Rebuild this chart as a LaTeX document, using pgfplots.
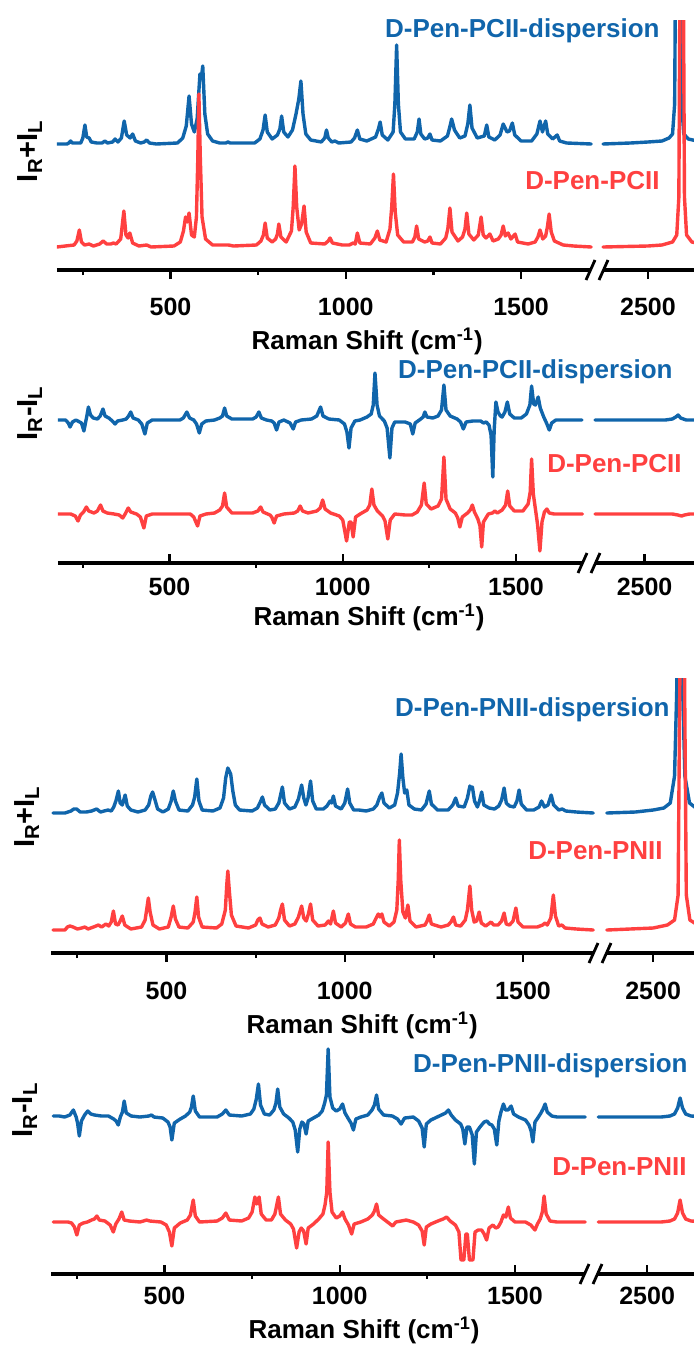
\documentclass[border=0pt]{standalone}
\usepackage{fontspec}
\setmainfont{Liberation Sans}
\usepackage{pgfplots}
\pgfplotsset{compat=1.18}

\definecolor{specblue}{HTML}{1065AB}
\definecolor{specred}{HTML}{FF4040}

\newcommand{\lblfont}{\bfseries\fontsize{13}{15}\selectfont}
\newcommand{\ylblfont}{\bfseries\fontsize{14.5}{16}\selectfont}
\newcommand{\tickfont}{\bfseries\fontsize{12.5}{14}\selectfont}

\pgfplotsset{
  ramanpanel/.style={
    scale only axis, anchor=south west, clip=true,
    axis x line*=bottom, axis y line*=left,
    axis line style={-},
    x axis line style={line width=1.6pt},
    y axis line style={draw=none},
    ytick=\empty, ymin=0,
    xticklabels={500,1000,1500,2500},
    extra x ticks={250,750,1250}, extra x tick labels={},
    major tick length=4.5pt,
    tick style={line width=1.1pt, black},
    /pgf/number format/assume math mode=true,
    xticklabel style={font=\tickfont, inner sep=0pt},
    xlabel style={font=\lblfont, inner sep=0pt},
    ylabel style={font=\ylblfont, inner sep=0pt},
    xlabel={Raman Shift (cm\textsuperscript{-1})},
  },
  sumpanel/.style={ylabel={I\textsubscript{R}+I\textsubscript{L}}},
  diffpanel/.style={ylabel={I\textsubscript{R}-I\textsubscript{L}}},
  ticksout/.style={xtick align=outside,
    extra x tick style={major tick length=2.5pt, xtick align=outside}},
  ticksmixed/.style={xtick align=inside,
    extra x tick style={major tick length=2.5pt, xtick align=outside}},
  bluespec/.style={color=specblue, line width=1.7pt, line join=round, line cap=round, no markers},
  redspec/.style={color=specred, line width=1.7pt, line join=round, line cap=round, no markers},
  % vertical offset of a stacked trace, and shift of the 2400-2650 segment next to the break
  lift/.style={y filter/.expression={y+#1}},
  brk/.style={x filter/.expression={x-#1}},
}

\begin{document}
\begin{tikzpicture}

% ---------------- (a) I_R + I_L, PCII ----------------
\begin{axis}[ramanpanel, sumpanel, ticksout,
  at={(28.5pt,-135pt)}, width=318.5pt, height=124.5pt,
  xmin=176.3, xmax=1993.2, ymax=249,
  xtick={500,1000,1500,1862},
  xticklabel style={yshift=-9.5pt},
  xlabel style={at={(axis description cs:0.487,0)}, anchor=base, yshift=-39.5pt},
  ylabel style={at={(axis description cs:-0.0424,0.478)}, anchor=center}]
\addplot[bluespec, lift=126] coordinates {
(176,0) (205,0) (210,1) (215,3) (220,1) (244,1) (250,6) (256,19) (261,7) (268,6) (274,2) (290,1) (305,1) (313,3) (320,1) (335,2) (342,5) (350,2) (360,6) (368,23) (375,9) (385,6) (392,10) (400,3) (415,1) (425,2) (432,4) (440,1) (460,0) (520,1) (535,6) (545,18) (553,48) (560,20) (568,12) (576,25) (584,70) (588,66) (592,78) (598,30) (606,10) (620,3) (640,1) (658,1) (664,2) (670,1) (740,1) (755,5) (764,14) (770,29) (776,12) (790,5) (805,9) (812,15) (817,28) (823,12) (835,7) (848,14) (858,30) (866,45) (872,63) (878,30) (886,10) (900,4) (930,2) (940,6) (945,14) (950,6) (960,2) (969,3) (980,1) (1015,2) (1025,6) (1033,14) (1040,5) (1060,3) (1085,7) (1093,15) (1098,22) (1104,9) (1120,4) (1135,12) (1140,40) (1145,99) (1150,40) (1156,12) (1170,5) (1195,5) (1204,12) (1209,25) (1214,10) (1225,5) (1234,6) (1240,10) (1246,4) (1270,3) (1290,8) (1296,16) (1302,25) (1310,14) (1325,6) (1340,8) (1348,20) (1354,39) (1360,16) (1375,6) (1395,8) (1402,19) (1408,7) (1425,4) (1440,9) (1449,20) (1460,12) (1467,13) (1475,21) (1482,9) (1500,3) (1530,3) (1545,10) (1554,23) (1561,12) (1570,23) (1576,10) (1590,5) (1603,9) (1610,3) (1630,1) (1700,0)};
\addplot[bluespec, lift=126, brk=638] coordinates {
(2372,0) (2450,1) (2500,2) (2540,3) (2560,6) (2570,10) (2576,40) (2579,200) (2593,200) (2596,40) (2602,10) (2615,5) (2640,3) (2670,2)};
\addplot[redspec, lift=23] coordinates {
(176,0) (200,1) (225,2) (233,6) (240,17) (246,5) (255,2) (268,3) (280,1) (298,3) (308,6) (318,3) (330,3) (337,4) (345,3) (358,8) (367,36) (373,12) (379,9) (384,14) (392,4) (410,1) (432,2) (445,0) (510,1) (528,5) (537,16) (543,30) (548,25) (553,34) (560,12) (568,10) (574,30) (578,90) (581,153) (585,90) (590,30) (600,8) (620,2) (665,2) (680,1) (745,2) (758,6) (765,12) (770,24) (776,9) (790,5) (800,8) (805,13) (809,23) (815,10) (830,5) (845,16) (850,40) (855,81) (860,40) (867,17) (874,23) (881,41) (887,15) (900,4) (940,3) (950,6) (955,9) (962,4) (990,2) (1010,2) (1021,4) (1027,3) (1033,14) (1040,4) (1070,3) (1083,9) (1090,16) (1097,7) (1115,5) (1126,18) (1131,40) (1136,73) (1141,35) (1148,12) (1165,5) (1190,5) (1197,10) (1202,21) (1208,8) (1225,5) (1234,6) (1240,10) (1246,4) (1270,3) (1285,9) (1291,18) (1297,39) (1303,15) (1320,6) (1333,10) (1340,18) (1345,34) (1351,13) (1365,7) (1378,12) (1386,30) (1392,12) (1400,9) (1411,13) (1420,6) (1435,8) (1443,12) (1449,21) (1455,11) (1463,14) (1471,8) (1483,13) (1490,5) (1520,3) (1540,5) (1548,10) (1554,17) (1562,8) (1570,11) (1575,20) (1580,33) (1586,15) (1595,6) (1620,2) (1650,1) (1700,0)};
\addplot[redspec, lift=23, brk=638] coordinates {
(2372,0) (2500,1) (2540,2) (2570,5) (2582,12) (2588,50) (2591,260) (2601,260) (2604,50) (2610,12) (2625,5) (2670,2)};
\end{axis}

% ---------------- (b) I_R - I_L, PCII ----------------
\begin{axis}[ramanpanel, diffpanel, ticksmixed,
  at={(29pt,-281.5pt)}, width=318pt, height=106.5pt,
  xmin=178.2, xmax=2013.7, ymax=213,
  xtick={500,1000,1500,1871},
  xticklabel style={yshift=-7.5pt},
  xlabel style={at={(axis description cs:0.489,0)}, anchor=base, yshift=-31pt},
  ylabel style={at={(axis description cs:-0.044,0.704)}, anchor=center}]
\addplot[bluespec, lift=143] coordinates {
(178,0) (200,0) (208,-3) (213,-7) (220,-2) (230,0) (246,-3) (253,-11) (258,-2) (262,5) (266,13) (272,5) (280,2) (292,1) (300,4) (308,11) (314,4) (325,2) (335,-1) (343,-4) (350,-1) (365,0) (375,1) (382,4) (388,8) (395,2) (410,0) (420,-4) (429,-14) (436,-3) (450,0) (530,0) (540,2) (550,8) (558,2) (570,0) (578,-4) (586,-13) (593,-4) (605,-1) (630,0) (645,2) (653,4) (659,12) (665,4) (680,1) (740,1) (750,3) (758,8) (765,2) (780,0) (795,-1) (802,-3) (809,-10) (816,-2) (830,0) (848,-3) (857,-9) (864,-2) (880,0) (910,1) (925,4) (936,13) (943,4) (960,1) (990,0) (1005,-4) (1012,-12) (1018,-28) (1024,-8) (1035,-1) (1050,0) (1070,3) (1082,6) (1088,15) (1093,47) (1099,15) (1106,4) (1120,-1) (1128,-8) (1136,-38) (1142,-8) (1150,-2) (1180,-2) (1195,-4) (1202,-14) (1209,-3) (1225,1) (1232,3) (1237,8) (1243,3) (1260,2) (1275,4) (1285,10) (1292,35) (1298,10) (1310,4) (1330,1) (1340,-2) (1348,-9) (1356,-2) (1375,-1) (1398,-1) (1406,-3) (1414,-2) (1422,-5) (1428,-15) (1433,-57) (1437,-10) (1442,18) (1448,8) (1455,4) (1460,3) (1468,8) (1475,18) (1482,6) (1495,2) (1515,2) (1530,6) (1540,15) (1545,34) (1551,16) (1556,15) (1564,23) (1570,12) (1580,3) (1588,-3) (1596,-10) (1603,-3) (1615,0) (1690,0)};
\addplot[bluespec, lift=143, brk=629] coordinates {
(2357,0) (2560,0) (2580,1) (2590,3) (2597,5) (2604,2) (2620,0) (2680,0)};
\addplot[redspec, lift=49] coordinates {
(178,0) (215,0) (228,-2) (236,-7) (243,-1) (252,2) (260,7) (267,3) (282,1) (292,3) (301,9) (308,3) (320,1) (340,0) (355,-1) (365,-4) (372,0) (381,6) (388,2) (405,0) (416,-3) (426,-14) (433,-2) (450,0) (560,0) (570,-3) (581,-12) (588,-2) (605,0) (630,1) (645,4) (653,8) (659,21) (665,7) (680,1) (740,1) (755,3) (763,7) (770,2) (790,-1) (795,-3) (802,-9) (809,-2) (830,0) (860,1) (870,3) (877,8) (884,3) (900,1) (925,3) (935,6) (942,14) (949,5) (965,1) (990,-2) (1000,-6) (1011,-27) (1019,-8) (1024,-8) (1030,-23) (1037,-3) (1050,0) (1070,4) (1078,9) (1084,25) (1090,9) (1100,3) (1115,-2) (1122,-7) (1130,-25) (1137,-6) (1150,0) (1180,-1) (1200,-1) (1215,2) (1227,9) (1235,31) (1241,10) (1255,5) (1275,8) (1285,15) (1292,57) (1298,15) (1310,5) (1325,1) (1332,-4) (1338,-13) (1345,-3) (1360,1) (1368,4) (1374,9) (1380,2) (1390,-5) (1396,-12) (1401,-33) (1406,-8) (1420,0) (1432,1) (1439,3) (1446,1) (1460,4) (1470,9) (1476,23) (1482,8) (1495,3) (1520,3) (1535,10) (1541,22) (1545,55) (1550,20) (1556,5) (1562,-10) (1569,-37) (1575,-8) (1582,2) (1589,5) (1596,1) (1610,0) (1692,0)};
\addplot[redspec, lift=49, brk=629] coordinates {
(2357,0) (2580,0) (2596,-1) (2607,-2) (2615,-1) (2630,0) (2680,0)};
\end{axis}

% ---------------- (c) I_R + I_L, PNII ----------------
\begin{axis}[ramanpanel, sumpanel, ticksout,
  at={(25.5pt,-476.5pt)}, width=321.5pt, height=137.5pt,
  xmin=176.0, xmax=1979.6, ymax=275,
  xtick={500,1000,1500,1865},
  xticklabel style={yshift=-10pt},
  xlabel style={at={(axis description cs:0.484,0)}, anchor=base, yshift=-40pt},
  ylabel style={at={(axis description cs:-0.0373,0.495)}, anchor=center}]
\addplot[bluespec, lift=140] coordinates {
(182,0) (215,0) (232,2) (240,4) (248,4) (258,1) (275,1) (290,2) (304,4) (315,1) (325,2) (336,3) (345,2) (352,6) (358,12) (365,22) (370,10) (376,8) (384,18) (390,7) (400,3) (420,1) (440,3) (450,8) (456,17) (461,21) (467,14) (475,4) (490,1) (505,4) (513,12) (519,22) (525,12) (535,3) (560,2) (573,8) (579,16) (585,34) (591,12) (600,3) (630,2) (650,5) (660,15) (666,35) (672,45) (680,39) (686,22) (693,8) (705,3) (740,2) (755,5) (763,11) (769,16) (775,8) (790,3) (805,4) (815,10) (825,26) (831,10) (845,4) (860,6) (870,14) (879,28) (885,15) (891,8) (897,15) (904,32) (910,12) (920,4) (940,4) (950,7) (959,12) (963,10) (968,17) (974,7) (990,4) (1000,10) (1008,24) (1014,10) (1025,3) (1040,3) (1060,2) (1080,4) (1090,8) (1098,16) (1104,20) (1110,10) (1125,5) (1140,8) (1148,20) (1154,40) (1158,59) (1163,35) (1168,20) (1174,23) (1180,8) (1195,4) (1215,3) (1228,9) (1237,22) (1243,9) (1260,3) (1290,3) (1303,8) (1311,15) (1318,7) (1335,6) (1344,15) (1351,27) (1355,25) (1358,26) (1364,12) (1372,6) (1378,12) (1384,21) (1390,8) (1405,5) (1420,4) (1432,7) (1440,13) (1447,25) (1453,10) (1462,7) (1475,6) (1483,12) (1489,23) (1495,9) (1510,3) (1530,3) (1545,6) (1552,12) (1560,6) (1570,8) (1579,18) (1586,8) (1600,3) (1610,4) (1620,2) (1650,1) (1697,0)};
\addplot[bluespec, lift=140, brk=635] coordinates {
(2370,0) (2450,1) (2500,3) (2530,5) (2548,10) (2560,37) (2566,120) (2569,200) (2580,200) (2583,120) (2589,37) (2602,10) (2620,5) (2670,3)};
\addplot[redspec, lift=23] coordinates {
(182,0) (215,0) (222,3) (229,4) (238,3) (250,1) (262,2) (271,3) (280,1) (295,3) (309,5) (318,3) (330,6) (338,4) (345,8) (351,19) (357,6) (364,5) (370,9) (376,14) (383,5) (400,1) (430,3) (440,10) (445,22) (449,32) (454,18) (462,5) (480,1) (505,3) (513,13) (519,24) (525,11) (535,3) (560,2) (575,8) (580,18) (585,33) (590,13) (600,3) (640,2) (655,6) (665,20) (669,45) (672,59) (676,40) (682,15) (695,4) (730,2) (750,5) (756,10) (762,12) (768,6) (785,3) (805,5) (815,12) (820,20) (825,26) (831,10) (845,4) (860,6) (870,13) (879,24) (885,12) (892,9) (898,16) (904,26) (910,10) (925,4) (945,5) (954,9) (960,6) (968,19) (974,7) (990,3) (1002,7) (1010,16) (1016,6) (1030,3) (1060,3) (1080,6) (1088,12) (1094,16) (1099,13) (1104,16) (1110,8) (1125,4) (1138,8) (1146,20) (1150,50) (1153,90) (1157,50) (1163,18) (1170,12) (1177,25) (1183,9) (1200,3) (1225,5) (1231,9) (1237,15) (1243,6) (1270,3) (1290,5) (1298,8) (1305,13) (1311,5) (1325,4) (1338,10) (1344,20) (1351,44) (1356,20) (1363,8) (1370,9) (1377,18) (1383,7) (1395,4) (1403,6) (1410,8) (1418,5) (1430,5) (1440,9) (1447,17) (1453,6) (1462,5) (1472,9) (1480,22) (1486,8) (1500,3) (1540,3) (1555,5) (1562,7) (1568,5) (1578,12) (1585,35) (1591,14) (1600,4) (1609,5) (1618,2) (1650,1) (1697,0)};
\addplot[redspec, lift=23, brk=635] coordinates {
(2370,0) (2500,2) (2540,5) (2560,10) (2570,35) (2576,300) (2587,300) (2593,35) (2603,10) (2625,5) (2670,3)};
\end{axis}

% ---------------- (d) I_R - I_L, PNII ----------------
\begin{axis}[ramanpanel, diffpanel, ticksmixed,
  at={(25.5pt,-637pt)}, width=321.5pt, height=117pt,
  xmin=176.2, xmax=2010.7, ymax=234,
  xtick={500,1000,1500,1877},
  xticklabel style={yshift=-6.5pt},
  xlabel style={at={(axis description cs:0.487,0)}, anchor=base, yshift=-32pt},
  ylabel style={at={(axis description cs:-0.0404,0.701)}, anchor=center}]
\addplot[bluespec, lift=157] coordinates {
(183,1) (200,1) (215,0) (230,2) (240,7) (248,0) (252,-6) (257,-19) (263,-4) (272,2) (281,6) (290,3) (300,2) (320,1) (340,1) (355,-2) (362,-4) (368,-8) (374,0) (380,5) (385,16) (391,4) (405,1) (430,0) (455,1) (463,2) (470,0) (495,-1) (510,-5) (516,-10) (521,-23) (528,-6) (545,-2) (560,1) (572,5) (577,10) (582,21) (588,6) (600,0) (650,0) (665,3) (675,7) (685,2) (720,1) (745,3) (755,8) (762,18) (768,33) (774,12) (785,3) (800,2) (812,7) (818,14) (823,28) (829,10) (840,3) (855,-1) (866,-5) (873,-13) (880,-35) (886,-12) (892,-5) (898,-7) (904,-17) (910,-4) (925,-1) (940,2) (950,6) (957,14) (962,22) (967,68) (972,20) (980,9) (990,6) (1000,8) (1008,13) (1015,4) (1025,-2) (1032,-6) (1039,-13) (1046,-2) (1060,0) (1080,2) (1092,7) (1099,12) (1105,22) (1111,8) (1125,2) (1150,1) (1165,-2) (1175,-7) (1185,-1) (1210,0) (1225,-4) (1235,-11) (1241,-30) (1247,-7) (1260,-3) (1290,2) (1302,4) (1310,7) (1318,2) (1330,-3) (1345,-7) (1351,-12) (1357,-27) (1363,-10) (1370,-10) (1378,-18) (1384,-47) (1390,-15) (1400,-10) (1412,-5) (1420,-4) (1427,-7) (1434,-8) (1441,-12) (1448,-28) (1454,-4) (1460,5) (1467,13) (1473,7) (1480,7) (1489,11) (1496,3) (1510,0) (1530,-3) (1540,-8) (1546,-14) (1551,-25) (1557,-5) (1565,-1) (1574,4) (1580,8) (1586,13) (1592,5) (1605,1) (1620,0) (1700,0)};
\addplot[bluespec, lift=157, brk=623] coordinates {
(2361,0) (2540,0) (2565,1) (2578,3) (2587,9) (2594,19) (2601,9) (2610,3) (2625,1) (2680,0)};
\addplot[redspec, lift=52] coordinates {
(183,0) (225,0) (235,-1) (243,-5) (250,-13) (257,-3) (268,-1) (280,0) (292,2) (300,3) (307,6) (314,2) (330,1) (345,-3) (354,-10) (361,-2) (370,3) (378,10) (385,2) (400,1) (430,0) (440,1) (449,2) (458,1) (490,0) (505,-3) (514,-10) (521,-24) (528,-6) (545,-1) (565,2) (574,7) (582,22) (588,6) (600,0) (650,1) (665,4) (675,9) (685,2) (720,1) (740,4) (750,10) (758,25) (763,18) (770,25) (776,8) (790,2) (805,2) (815,8) (825,25) (831,8) (845,2) (860,-2) (868,-7) (877,-26) (884,-10) (890,-6) (897,-9) (904,-22) (910,-6) (925,-2) (940,3) (952,8) (958,17) (963,30) (967,80) (972,30) (978,10) (990,4) (1000,6) (1008,10) (1015,3) (1025,-3) (1034,-12) (1041,-2) (1060,0) (1080,3) (1093,7) (1099,11) (1105,18) (1111,7) (1125,3) (1140,-1) (1151,-4) (1160,0) (1175,1) (1190,2) (1210,0) (1225,-3) (1235,-9) (1241,-23) (1247,-5) (1260,-2) (1280,1) (1295,3) (1305,5) (1315,1) (1330,-3) (1340,-10) (1346,-38) (1354,-38) (1360,-12) (1364,-12) (1370,-38) (1380,-38) (1386,-10) (1395,-8) (1405,-8) (1412,-12) (1419,-18) (1426,-6) (1437,-3) (1445,-6) (1452,-5) (1460,0) (1467,7) (1474,5) (1481,15) (1487,4) (1500,0) (1530,0) (1545,-3) (1557,-8) (1564,-2) (1572,3) (1578,10) (1583,26) (1589,8) (1600,1) (1620,0) (1700,0)};
\addplot[redspec, lift=52, brk=623] coordinates {
(2361,0) (2540,0) (2565,1) (2578,3) (2587,9) (2594,22) (2601,9) (2610,3) (2625,1) (2680,0)};
\end{axis}

% axis breaks and trace names, placed in pixel units (y downwards)
\begin{scope}[x=0.5pt, y=-0.5pt]
  \foreach \c/\yy in {597/270, 589/563, 600/953, 591/1274}{
    \fill[white] (\c-6.5,\yy-2.5) rectangle (\c+6.5,\yy+2.5);
    \draw[line width=1.4pt] (\c-11,\yy+10) -- (\c-2,\yy-10);
    \draw[line width=1.4pt] (\c+2,\yy+10) -- (\c+11,\yy-10);
  }
  \begin{scope}[every node/.style={font=\lblfont, inner sep=0pt, anchor=base east}]
    \node[text=specblue] at (660,38)   {D-Pen-PCII-dispersion};
    \node[text=specred]  at (660,189)  {D-Pen-PCII};
    \node[text=specblue] at (673,378)  {D-Pen-PCII-dispersion};
    \node[text=specred]  at (682,472)  {D-Pen-PCII};
    \node[text=specblue] at (670,716)  {D-Pen-PNII-dispersion};
    \node[text=specred]  at (663,859)  {D-Pen-PNII};
    \node[text=specblue] at (688,1072) {D-Pen-PNII-dispersion};
    \node[text=specred]  at (687,1175) {D-Pen-PNII};
  \end{scope}
  \pgfresetboundingbox
  \path[use as bounding box] (0,0) rectangle (694,1349);
\end{scope}
\end{tikzpicture}
\end{document}
